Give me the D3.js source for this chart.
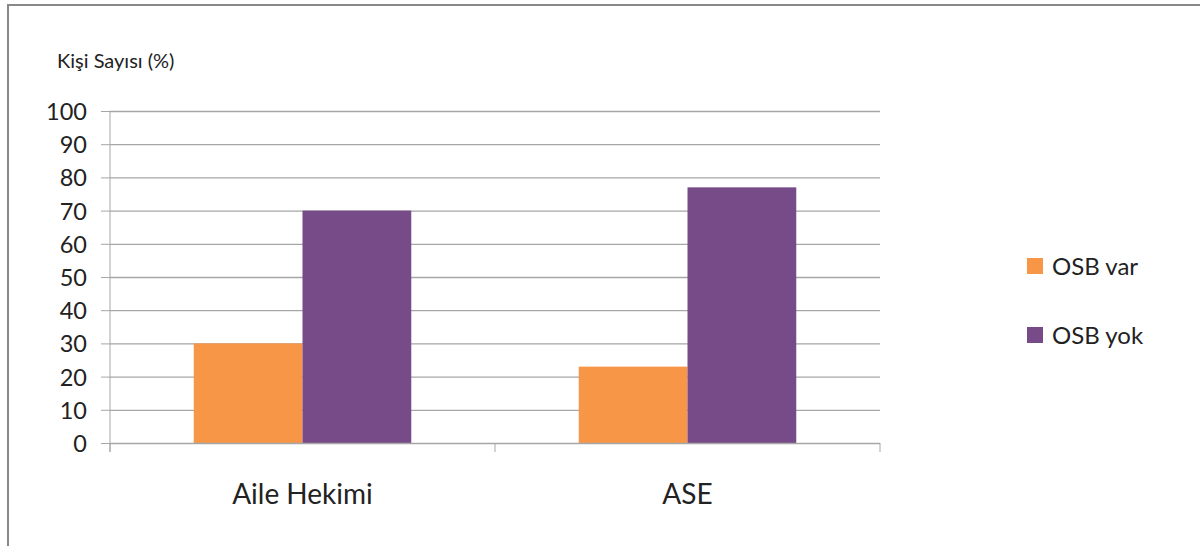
<!DOCTYPE html>
<html><head><meta charset="utf-8">
<script src="https://cdn.jsdelivr.net/npm/d3@7"></script>
<style>html,body{margin:0;padding:0;background:#fff;}svg{display:block;font-family:Lato,"Open Sans",sans-serif;}</style>
</head><body>
<svg id="c" width="1200" height="546"></svg>
<script>
const categories = ["Aile Hekimi", "ASE"];
const seriesNames = ["OSB var", "OSB yok"];
const osbVar = [30, 23];
const osbYok = [70, 77];
const yTicks = [0,10,20,30,40,50,60,70,80,90,100];
const colors = ["#F79646", "#774A88"];

const svg = d3.select("#c");
// frame
svg.append("line").attr("x1",8).attr("x2",1200).attr("y1",5).attr("y2",5).attr("stroke","#888").attr("stroke-width",2);
svg.append("line").attr("x1",8).attr("x2",8).attr("y1",4).attr("y2",546).attr("stroke","#888").attr("stroke-width",2);

const L=110, R=880, T=111, B=443;
const x = d3.scaleBand().domain(categories).range([L,R]);
const xs = d3.scaleBand().domain(seriesNames).range([0, x.bandwidth()]).paddingOuter(0.77).paddingInner(0);
const y = d3.scaleLinear().domain([0,100]).range([B,T]);

// gridlines
svg.append("g").selectAll("line").data(yTicks.filter(d=>d>0)).join("line")
  .attr("x1",L).attr("x2",R).attr("y1",d=>y(d)+0.5).attr("y2",d=>y(d)+0.5)
  .attr("stroke","#a6a6a6").attr("stroke-width",1.3);

// bars
const data = categories.map((c,i)=>({c, vals:[osbVar[i], osbYok[i]]}));
svg.append("g").selectAll("g").data(data).join("g")
  .attr("transform",d=>`translate(${x(d.c)},0)`)
  .selectAll("rect").data(d=>d.vals.map((v,j)=>({v,j}))).join("rect")
  .attr("x",d=>xs(seriesNames[d.j])).attr("width",xs.bandwidth())
  .attr("y",d=>y(d.v)).attr("height",d=>B-y(d.v))
  .attr("fill",d=>colors[d.j]);

// y axis
const ya = svg.append("g").attr("transform",`translate(${L},0)`)
  .call(d3.axisLeft(y).tickValues(yTicks).tickSize(9).tickPadding(14).tickFormat(d3.format("d")));
ya.select(".domain").attr("stroke","#a6a6a6").attr("d",`M0,${T}V${B+9}`);
ya.selectAll(".tick line").attr("stroke","#a6a6a6");
ya.selectAll("text").attr("font-size",23.5).attr("fill","#222").attr("font-family","Lato,'Open Sans',sans-serif").attr("dy","0.36em");

// x axis
svg.append("line").attr("x1",L).attr("x2",R).attr("y1",B+0.5).attr("y2",B+0.5).attr("stroke","#a6a6a6").attr("stroke-width",1.3);
const bounds = categories.map(c=>x(c)).concat([R]);
svg.append("g").selectAll("line").data(bounds).join("line")
  .attr("x1",d=>d).attr("x2",d=>d).attr("y1",B).attr("y2",B+9).attr("stroke","#a6a6a6");
svg.append("g").selectAll("text").data(categories).join("text")
  .attr("x",d=>x(d)+x.bandwidth()/2).attr("y",504).attr("text-anchor","middle")
  .attr("font-size",28).attr("fill","#222").text(d=>d);

// y title
svg.append("text").attr("x",57).attr("y",68).attr("font-size",20).attr("fill","#222").text("Kişi Sayısı (%)");

// legend
const lg = svg.append("g").selectAll("g").data(seriesNames).join("g")
  .attr("transform",(d,i)=>`translate(1027,${258+i*69})`);
lg.append("rect").attr("width",16).attr("height",16).attr("fill",(d,i)=>colors[i]);
lg.append("text").attr("x",25).attr("y",17).attr("font-size",24).attr("fill","#222").text(d=>d);
</script>
</body></html>
